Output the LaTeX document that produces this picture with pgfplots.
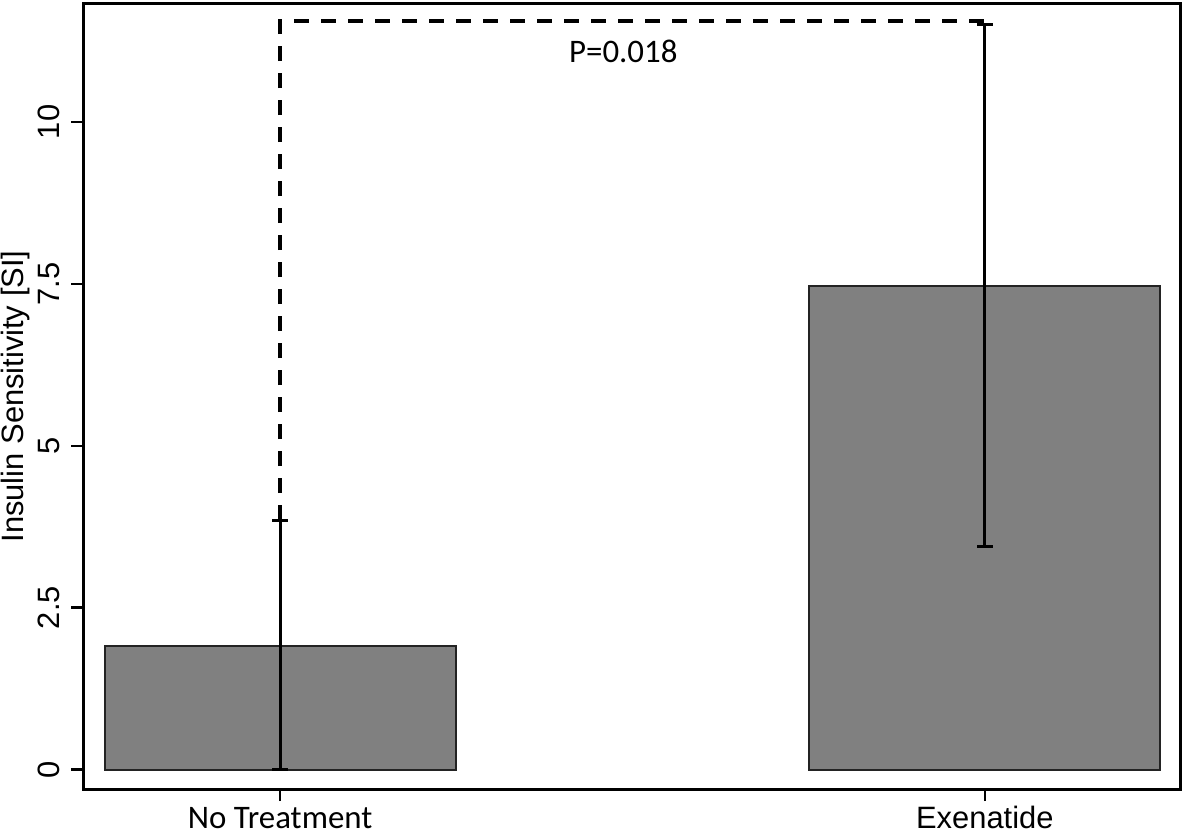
\documentclass[border=0pt]{standalone}
\usepackage{pgfplots}
\pgfplotsset{compat=1.18}
\usepackage{fontspec}
\setmainfont{Liberation Sans}
\newfontfamily\carlito{Carlito}
\definecolor{barfill}{RGB}{128,128,128}
\definecolor{baredge}{RGB}{35,35,35}
\begin{document}
\begin{tikzpicture}
\begin{axis}[
  at={(0,0)}, anchor=south west,
  scale only axis, width=548.25bp, height=392.5bp,
  xmin=-0.279, xmax=1.277, ymin=-0.30, ymax=11.82,
  axis line style={line width=1.5bp},
  tick style={line width=1.2bp, black},
  tick align=outside, major tick length=6bp,
  xtick pos=bottom, ytick pos=left,
  xtick={0,1},
  xticklabels={{\carlito\fontsize{16.5}{18}\selectfont No Treatment},{\fontsize{15.5}{18}\selectfont Exenatide}},
  xticklabel style={anchor=base, inner sep=0pt, yshift=-13.5bp},
  ytick={0,2.5,5,7.5,10},
  yticklabels={0,2.5,5,7.5,10},
  yticklabel style={rotate=90, anchor=south, inner sep=0pt, inner ysep=5.75bp, font=\fontsize{15.5}{18}\selectfont},
  clip=false,
]
\addplot[ybar, bar width=0.498, fill=barfill, draw=baredge, line width=1bp,
  error bars/.cd, y dir=both, y explicit,
  error bar style={line width=1.5bp, black},
  error mark=-, error mark options={rotate=90, mark size=4bp, line width=1.5bp, black}]
  coordinates {
    (0,1.91) += (0,1.94) -= (0,1.91)
    (1,7.47) += (0,4.03) -= (0,4.03)
  };
\addplot[black, line width=2bp, dash pattern=on 7.5bp off 6bp]
  coordinates {(0,3.85) (0,11.555) (1,11.555)};
\node[anchor=base, inner sep=0pt, font=\carlito\fontsize{16.5}{18}\selectfont] at (axis cs:0.487,10.92) {P=0.018};
\end{axis}
\node[rotate=90, anchor=base, inner sep=0pt, font=\fontsize{15.5}{18}\selectfont] at (-30bp,196.25bp) {Insulin Sensitivity [SI]};
\pgfresetboundingbox
\path (-41.75bp,-22.5bp) rectangle (550.25bp,394.5bp);
\end{tikzpicture}
\end{document}
